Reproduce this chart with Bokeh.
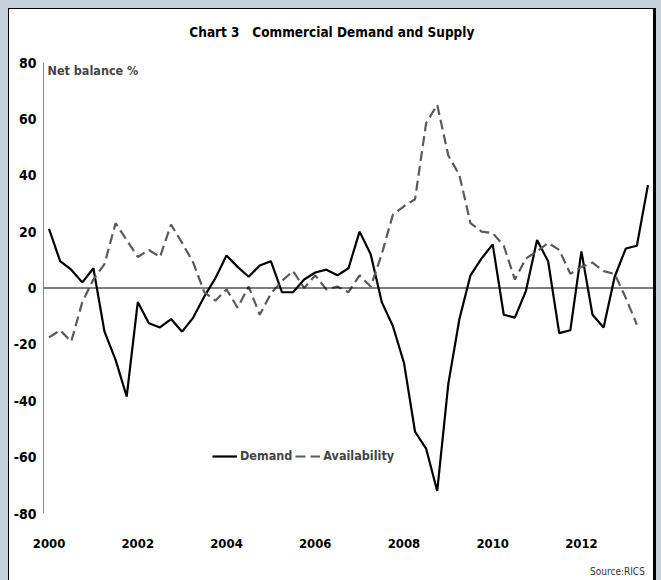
import numpy as np
from bokeh.plotting import figure
from bokeh.models import Span, Label, Legend, LegendItem, FixedTicker, LinearAxis
from bokeh.embed import file_html
from bokeh.resources import INLINE

# ---------------- data ----------------
title_text = "Chart 3\u00a0\u00a0\u00a0Commercial Demand and Supply"
y_title = "Net balance %"
source_note = "Source:RICS"
first_year = 2000
tick_years = ["2000", "2002", "2004", "2006", "2008", "2010", "2012"]
y_ticks = [-80, -60, -40, -20, 0, 20, 40, 60, 80]

# quarterly net balances, 2000 Q1 onwards
demand = [21, 9.5, 6.5, 2, 7, -15.5, -25.5, -38.5, -5, -12.5,
          -14, -11, -15.5, -10.5, -3, 3.5, 11.5, 7.5, 4, 8,
          9.5, -1.5, -1.5, 3, 5.5, 6.5, 4.5, 7, 20, 12,
          -5, -13.5, -26.5, -51, -57, -72, -34, -11, 4.5, 10.5,
          15.5, -9.5, -10.5, -1, 17, 9.5, -16, -15, 13, -9.5,
          -14, 4, 14, 15, 36.5]
availability = [-17.5, -15, -19, -5, 3, 8.5, 23, 17, 11, 13.5,
                11, 22.5, 16, 9, -1.5, -4.5, -0.5, -7, 0.5, -9.5,
                -2, 2.5, 6, 0, 4.5, -0.5, 0.5, -1.5, 4.5, 0.5,
                12, 26, 29, 31.5, 58.5, 65, 47, 40, 23, 20,
                19.5, 15, 3, 10.5, 13, 16, 13.5, 5, 7.5, 9,
                6, 5, -3.5, -13]

FONT = "'DejaVu Sans Condensed', 'Liberation Sans', sans-serif"

n_cat = len(demand)
x_d = np.arange(len(demand))
x_a = np.arange(len(availability))

p = figure(width=644, height=571, output_backend="svg", toolbar_location=None,
           x_range=(-0.5, n_cat - 0.5), y_range=(-80, 80),
           min_border_left=34, min_border_right=0, min_border_top=53, min_border_bottom=67)
p.background_fill_color = "white"
p.border_fill_color = "white"
p.outline_line_color = None
p.xgrid.grid_line_color = None
p.ygrid.grid_line_color = None


def plain_axis(ax, size, style, color, standoff):
    ax.axis_line_color = None
    ax.major_tick_line_color = None
    ax.minor_tick_line_color = None
    ax.major_tick_out = 0
    ax.major_tick_in = 0
    ax.major_label_standoff = standoff
    ax.major_label_text_font = FONT
    ax.major_label_text_font_style = style
    ax.major_label_text_font_size = size
    ax.major_label_text_color = color


# y axis
p.yaxis.ticker = FixedTicker(ticks=y_ticks)
p.yaxis.major_label_overrides = {v: str(v) for v in y_ticks}
plain_axis(p.yaxis[0], "14px", "bold", "black", 7)
p.yaxis.axis_line_color = "#8c8c8c"
p.yaxis.axis_line_width = 1

# x axis (category labels)
x_tick_pos = [(int(t) - first_year) * 4 for t in tick_years]
p.xaxis.ticker = FixedTicker(ticks=x_tick_pos)
p.xaxis.major_label_overrides = {pos: t for pos, t in zip(x_tick_pos, tick_years)}
plain_axis(p.xaxis[0], "13px", "bold", "black", 25)

# title line above the plot and source note below it
title_pos = 25.5
src_pos = 51.25
top_ax = LinearAxis(ticker=FixedTicker(ticks=[title_pos]),
                    major_label_overrides={title_pos: title_text})
plain_axis(top_ax, "13.5px", "bold", "black", 23)
p.add_layout(top_ax, "above")
src_ax = LinearAxis(ticker=FixedTicker(ticks=[src_pos]),
                    major_label_overrides={src_pos: source_note})
plain_axis(src_ax, "10px", "normal", "#333333", 15)
p.add_layout(src_ax, "below")

p.add_layout(Span(location=0, dimension="width", line_color="black", line_width=1))

r_d = p.line(x_d, demand, line_color="black", line_width=2.2)
r_a = p.line(x_a, availability, line_color="#5a5a5a", line_width=2.2, line_dash="10 5")

legend = Legend(items=[LegendItem(label="Demand", renderers=[r_d]),
                       LegendItem(label="Availability", renderers=[r_a])],
                orientation="horizontal", location=(169, 50),
                glyph_width=25, glyph_height=14, label_standoff=3, spacing=3,
                padding=0, margin=0, border_line_color=None, background_fill_alpha=0,
                label_text_font=FONT, label_text_font_style="bold",
                label_text_font_size="12.5px")
p.add_layout(legend)

p.add_layout(Label(x=-0.14, y=77.2, text=y_title, text_align="left", text_baseline="middle",
                   text_font=FONT, text_font_style="bold", text_font_size="12.5px"))

css = ("<style>html{background:#c5d0d9;overflow:hidden;}"
       "body{margin:8px 5px 0 8px;background:#fff;overflow:hidden;"
       "border-left:1px solid #000;border-top:1px solid #000;border-right:3px solid #000;}"
       "</style></head>")
open("out.html", "w").write(file_html(p, INLINE).replace("</head>", css, 1))
